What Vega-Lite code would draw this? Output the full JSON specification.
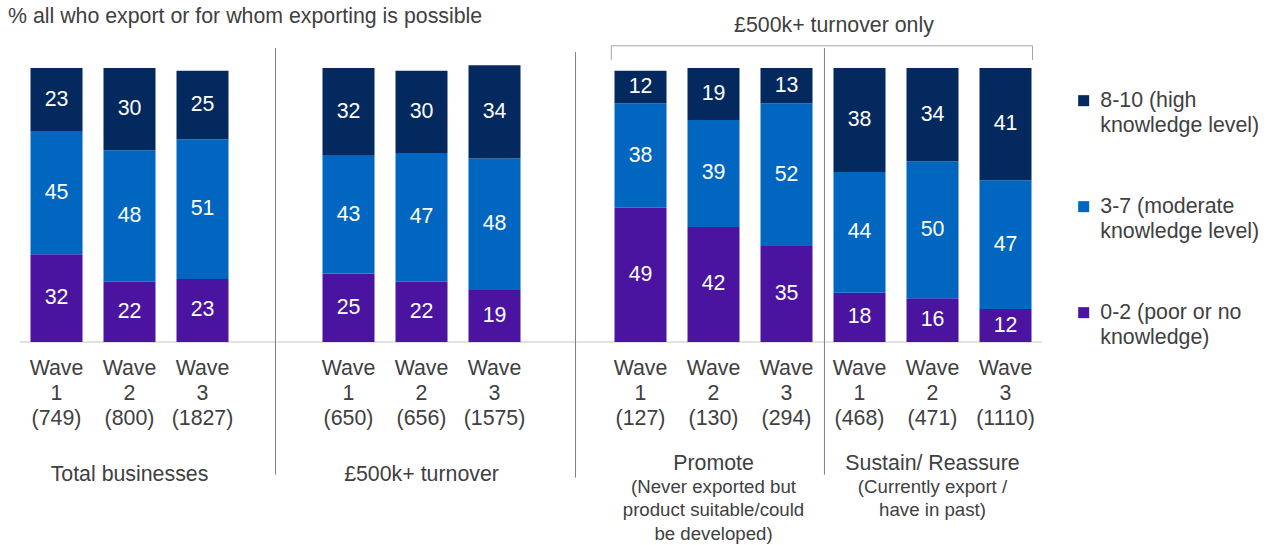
{
  "$schema": "https://vega.github.io/schema/vega-lite/v6.json",
  "width": 1022,
  "height": 274,
  "autosize": {"type": "none"},
  "padding": {"left": 20, "top": 68, "right": 226, "bottom": 203},
  "background": "white",
  "config": {
    "view": {"stroke": null},
    "font": "Liberation Sans",
    "text": {"font": "Liberation Sans"},
    "scale": {"continuousPadding": 0},
    "style": {"guide-label": {"lineHeight": 25}}
  },
  "datasets": {
    "bars": [
      {"slot": 0, "group": "Total businesses", "wave": 1, "n": 749, "level": "0-2 (poor or no knowledge)", "ord": 1, "value": 32},
      {"slot": 0, "group": "Total businesses", "wave": 1, "n": 749, "level": "3-7 (moderate knowledge level)", "ord": 2, "value": 45},
      {"slot": 0, "group": "Total businesses", "wave": 1, "n": 749, "level": "8-10 (high knowledge level)", "ord": 3, "value": 23},
      {"slot": 1, "group": "Total businesses", "wave": 2, "n": 800, "level": "0-2 (poor or no knowledge)", "ord": 1, "value": 22},
      {"slot": 1, "group": "Total businesses", "wave": 2, "n": 800, "level": "3-7 (moderate knowledge level)", "ord": 2, "value": 48},
      {"slot": 1, "group": "Total businesses", "wave": 2, "n": 800, "level": "8-10 (high knowledge level)", "ord": 3, "value": 30},
      {"slot": 2, "group": "Total businesses", "wave": 3, "n": 1827, "level": "0-2 (poor or no knowledge)", "ord": 1, "value": 23},
      {"slot": 2, "group": "Total businesses", "wave": 3, "n": 1827, "level": "3-7 (moderate knowledge level)", "ord": 2, "value": 51},
      {"slot": 2, "group": "Total businesses", "wave": 3, "n": 1827, "level": "8-10 (high knowledge level)", "ord": 3, "value": 25},
      {"slot": 4, "group": "£500k+ turnover", "wave": 1, "n": 650, "level": "0-2 (poor or no knowledge)", "ord": 1, "value": 25},
      {"slot": 4, "group": "£500k+ turnover", "wave": 1, "n": 650, "level": "3-7 (moderate knowledge level)", "ord": 2, "value": 43},
      {"slot": 4, "group": "£500k+ turnover", "wave": 1, "n": 650, "level": "8-10 (high knowledge level)", "ord": 3, "value": 32},
      {"slot": 5, "group": "£500k+ turnover", "wave": 2, "n": 656, "level": "0-2 (poor or no knowledge)", "ord": 1, "value": 22},
      {"slot": 5, "group": "£500k+ turnover", "wave": 2, "n": 656, "level": "3-7 (moderate knowledge level)", "ord": 2, "value": 47},
      {"slot": 5, "group": "£500k+ turnover", "wave": 2, "n": 656, "level": "8-10 (high knowledge level)", "ord": 3, "value": 30},
      {"slot": 6, "group": "£500k+ turnover", "wave": 3, "n": 1575, "level": "0-2 (poor or no knowledge)", "ord": 1, "value": 19},
      {"slot": 6, "group": "£500k+ turnover", "wave": 3, "n": 1575, "level": "3-7 (moderate knowledge level)", "ord": 2, "value": 48},
      {"slot": 6, "group": "£500k+ turnover", "wave": 3, "n": 1575, "level": "8-10 (high knowledge level)", "ord": 3, "value": 34},
      {"slot": 8, "group": "Promote", "wave": 1, "n": 127, "level": "0-2 (poor or no knowledge)", "ord": 1, "value": 49},
      {"slot": 8, "group": "Promote", "wave": 1, "n": 127, "level": "3-7 (moderate knowledge level)", "ord": 2, "value": 38},
      {"slot": 8, "group": "Promote", "wave": 1, "n": 127, "level": "8-10 (high knowledge level)", "ord": 3, "value": 12},
      {"slot": 9, "group": "Promote", "wave": 2, "n": 130, "level": "0-2 (poor or no knowledge)", "ord": 1, "value": 42},
      {"slot": 9, "group": "Promote", "wave": 2, "n": 130, "level": "3-7 (moderate knowledge level)", "ord": 2, "value": 39},
      {"slot": 9, "group": "Promote", "wave": 2, "n": 130, "level": "8-10 (high knowledge level)", "ord": 3, "value": 19},
      {"slot": 10, "group": "Promote", "wave": 3, "n": 294, "level": "0-2 (poor or no knowledge)", "ord": 1, "value": 35},
      {"slot": 10, "group": "Promote", "wave": 3, "n": 294, "level": "3-7 (moderate knowledge level)", "ord": 2, "value": 52},
      {"slot": 10, "group": "Promote", "wave": 3, "n": 294, "level": "8-10 (high knowledge level)", "ord": 3, "value": 13},
      {"slot": 11, "group": "Sustain/ Reassure", "wave": 1, "n": 468, "level": "0-2 (poor or no knowledge)", "ord": 1, "value": 18},
      {"slot": 11, "group": "Sustain/ Reassure", "wave": 1, "n": 468, "level": "3-7 (moderate knowledge level)", "ord": 2, "value": 44},
      {"slot": 11, "group": "Sustain/ Reassure", "wave": 1, "n": 468, "level": "8-10 (high knowledge level)", "ord": 3, "value": 38},
      {"slot": 12, "group": "Sustain/ Reassure", "wave": 2, "n": 471, "level": "0-2 (poor or no knowledge)", "ord": 1, "value": 16},
      {"slot": 12, "group": "Sustain/ Reassure", "wave": 2, "n": 471, "level": "3-7 (moderate knowledge level)", "ord": 2, "value": 50},
      {"slot": 12, "group": "Sustain/ Reassure", "wave": 2, "n": 471, "level": "8-10 (high knowledge level)", "ord": 3, "value": 34},
      {"slot": 13, "group": "Sustain/ Reassure", "wave": 3, "n": 1110, "level": "0-2 (poor or no knowledge)", "ord": 1, "value": 12},
      {"slot": 13, "group": "Sustain/ Reassure", "wave": 3, "n": 1110, "level": "3-7 (moderate knowledge level)", "ord": 2, "value": 47},
      {"slot": 13, "group": "Sustain/ Reassure", "wave": 3, "n": 1110, "level": "8-10 (high knowledge level)", "ord": 3, "value": 41}
    ],
    "notes": [
      {"group": "Promote", "note": "(Never exported but\nproduct suitable/could\nbe developed)"},
      {"group": "Sustain/ Reassure", "note": "(Currently export /\nhave in past)"}
    ]
  },
  "layer": [
    {
      "data": {"values": [{}]},
      "mark": {"type": "rule", "color": "#d9d9d9", "strokeWidth": 1.5},
      "encoding": {
        "y": {"datum": 0, "type": "quantitative", "scale": {"domain": [0, 100], "nice": false, "zero": false, "padding": 0}, "axis": null}
      }
    },
    {
      "data": {"name": "bars"},
      "transform": [
        {"stack": "value", "groupby": ["slot"], "sort": [{"field": "ord", "order": "ascending"}], "as": ["v0", "v1"]}
      ],
      "mark": {"type": "bar", "size": 52},
      "encoding": {
        "x": {"field": "slot", "type": "quantitative", "scale": {"domain": [-0.5, 13.5], "nice": false, "zero": false, "padding": 0}, "axis": null},
        "y": {"field": "v0", "type": "quantitative", "scale": {"domain": [0, 100], "nice": false, "zero": false, "padding": 0}, "axis": null},
        "y2": {"field": "v1"},
        "color": {
          "field": "level",
          "type": "nominal",
          "scale": {
            "domain": ["8-10 (high knowledge level)", "3-7 (moderate knowledge level)", "0-2 (poor or no knowledge)"],
            "range": ["#03295f", "#0066c0", "#4a14a0"]
          },
          "legend": {
            "orient": "none",
            "legendX": 1053,
            "legendY": 22,
            "title": null,
            "padding": 0,
            "symbolType": "square",
            "symbolSize": 121,
            "symbolStrokeWidth": 0,
            "labelFont": "Liberation Sans",
            "labelFontSize": 21.33,
            "labelColor": "#404040",
            "labelLimit": 400,
            "labelOffset": 6,
            "rowPadding": 59,
            "labelExpr": "[slice(datum.label, 0, indexof(datum.label, ' knowledge')), slice(datum.label, indexof(datum.label, ' knowledge') + 1)]"
          }
        }
      }
    },
    {
      "data": {"name": "bars"},
      "transform": [
        {"stack": "value", "groupby": ["slot"], "sort": [{"field": "ord", "order": "ascending"}], "as": ["v0", "v1"]},
        {"calculate": "(datum.v0 + datum.v1) / 2", "as": "mid"}
      ],
      "mark": {"type": "text", "color": "white", "fontSize": 21.33, "baseline": "middle", "align": "center"},
      "encoding": {
        "x": {"field": "slot", "type": "quantitative", "scale": {"domain": [-0.5, 13.5], "nice": false, "zero": false, "padding": 0}, "axis": null},
        "y": {"field": "mid", "type": "quantitative", "scale": {"domain": [0, 100], "nice": false, "zero": false, "padding": 0}, "axis": null},
        "text": {"field": "value", "type": "quantitative"}
      }
    },
    {
      "data": {"name": "bars"},
      "transform": [
        {"filter": "datum.ord == 1"},
        {"calculate": "'Wave\\n' + datum.wave + '\\n(' + datum.n + ')'", "as": "tick"}
      ],
      "mark": {"type": "text", "color": "#404040", "fontSize": 21.33, "lineHeight": 25, "lineBreak": "\n", "baseline": "alphabetic", "align": "center", "dy": 33},
      "encoding": {
        "x": {"field": "slot", "type": "quantitative", "scale": {"domain": [-0.5, 13.5], "nice": false, "zero": false, "padding": 0}, "axis": null},
        "y": {"datum": 0, "type": "quantitative", "scale": {"domain": [0, 100], "nice": false, "zero": false, "padding": 0}, "axis": null},
        "text": {"field": "tick", "type": "nominal"}
      }
    },
    {
      "data": {"name": "bars"},
      "transform": [
        {"aggregate": [{"op": "mean", "field": "slot", "as": "center"}], "groupby": ["group"]},
        {"lookup": "group", "from": {"data": {"name": "notes"}, "key": "group", "fields": ["note"]}},
        {"filter": "!isValid(datum.note)"}
      ],
      "mark": {"type": "text", "color": "#404040", "fontSize": 21.33, "baseline": "alphabetic", "align": "center", "dy": 139},
      "encoding": {
        "x": {"field": "center", "type": "quantitative", "scale": {"domain": [-0.5, 13.5], "nice": false, "zero": false, "padding": 0}, "axis": null},
        "y": {"datum": 0, "type": "quantitative", "scale": {"domain": [0, 100], "nice": false, "zero": false, "padding": 0}, "axis": null},
        "text": {"field": "group", "type": "nominal"}
      }
    },
    {
      "data": {"name": "bars"},
      "transform": [
        {"aggregate": [{"op": "mean", "field": "slot", "as": "center"}], "groupby": ["group"]},
        {"lookup": "group", "from": {"data": {"name": "notes"}, "key": "group", "fields": ["note"]}},
        {"filter": "isValid(datum.note)"}
      ],
      "mark": {"type": "text", "color": "#404040", "fontSize": 21.33, "baseline": "alphabetic", "align": "center", "dy": 128},
      "encoding": {
        "x": {"field": "center", "type": "quantitative", "scale": {"domain": [-0.5, 13.5], "nice": false, "zero": false, "padding": 0}, "axis": null},
        "y": {"datum": 0, "type": "quantitative", "scale": {"domain": [0, 100], "nice": false, "zero": false, "padding": 0}, "axis": null},
        "text": {"field": "group", "type": "nominal"}
      }
    },
    {
      "data": {"name": "bars"},
      "transform": [
        {"aggregate": [{"op": "mean", "field": "slot", "as": "center"}], "groupby": ["group"]},
        {"lookup": "group", "from": {"data": {"name": "notes"}, "key": "group", "fields": ["note"]}},
        {"filter": "isValid(datum.note)"}
      ],
      "mark": {"type": "text", "color": "#404040", "fontSize": 18.67, "lineHeight": 23.3, "lineBreak": "\n", "baseline": "alphabetic", "align": "center", "dy": 151},
      "encoding": {
        "x": {"field": "center", "type": "quantitative", "scale": {"domain": [-0.5, 13.5], "nice": false, "zero": false, "padding": 0}, "axis": null},
        "y": {"datum": 0, "type": "quantitative", "scale": {"domain": [0, 100], "nice": false, "zero": false, "padding": 0}, "axis": null},
        "text": {"field": "note", "type": "nominal"}
      }
    },
    {
      "data": {"values": [{}]},
      "mark": {"type": "rule", "color": "#7f7f7f", "strokeWidth": 1},
      "encoding": {
        "x": {"datum": 3, "type": "quantitative", "scale": {"domain": [-0.5, 13.5], "nice": false, "zero": false, "padding": 0}, "axis": null},
        "y": {"datum": 107.3, "type": "quantitative", "scale": {"domain": [0, 100], "nice": false, "zero": false, "padding": 0}, "axis": null},
        "y2": {"datum": -48.4}
      }
    },
    {
      "data": {"values": [{}]},
      "mark": {"type": "rule", "color": "#7f7f7f", "strokeWidth": 1},
      "encoding": {
        "x": {"datum": 7.11, "type": "quantitative", "scale": {"domain": [-0.5, 13.5], "nice": false, "zero": false, "padding": 0}, "axis": null},
        "y": {"datum": 105.8, "type": "quantitative", "scale": {"domain": [0, 100], "nice": false, "zero": false, "padding": 0}, "axis": null},
        "y2": {"datum": -49.5}
      }
    },
    {
      "data": {"values": [{}]},
      "mark": {"type": "rule", "color": "#7f7f7f", "strokeWidth": 1},
      "encoding": {
        "x": {"datum": 10.52, "type": "quantitative", "scale": {"domain": [-0.5, 13.5], "nice": false, "zero": false, "padding": 0}, "axis": null},
        "y": {"datum": 107.3, "type": "quantitative", "scale": {"domain": [0, 100], "nice": false, "zero": false, "padding": 0}, "axis": null},
        "y2": {"datum": -48.4}
      }
    },
    {
      "data": {"values": [{}]},
      "mark": {"type": "rule", "color": "#a6a6a6", "strokeWidth": 1},
      "encoding": {
        "x": {"datum": 7.6, "type": "quantitative", "scale": {"domain": [-0.5, 13.5], "nice": false, "zero": false, "padding": 0}, "axis": null},
        "x2": {"datum": 13.37},
        "y": {"datum": 108.1, "type": "quantitative", "scale": {"domain": [0, 100], "nice": false, "zero": false, "padding": 0}, "axis": null}
      }
    },
    {
      "data": {"values": [{}]},
      "mark": {"type": "rule", "color": "#a6a6a6", "strokeWidth": 1},
      "encoding": {
        "x": {"datum": 7.6, "type": "quantitative", "scale": {"domain": [-0.5, 13.5], "nice": false, "zero": false, "padding": 0}, "axis": null},
        "y": {"datum": 108.1, "type": "quantitative", "scale": {"domain": [0, 100], "nice": false, "zero": false, "padding": 0}, "axis": null},
        "y2": {"datum": 102.9}
      }
    },
    {
      "data": {"values": [{}]},
      "mark": {"type": "rule", "color": "#a6a6a6", "strokeWidth": 1},
      "encoding": {
        "x": {"datum": 13.37, "type": "quantitative", "scale": {"domain": [-0.5, 13.5], "nice": false, "zero": false, "padding": 0}, "axis": null},
        "y": {"datum": 108.1, "type": "quantitative", "scale": {"domain": [0, 100], "nice": false, "zero": false, "padding": 0}, "axis": null},
        "y2": {"datum": 102.9}
      }
    },
    {
      "data": {"values": [{"text": "£500k+ turnover only"}]},
      "mark": {"type": "text", "color": "#404040", "fontSize": 21.33, "baseline": "alphabetic", "align": "center"},
      "encoding": {
        "x": {"datum": 10.65, "type": "quantitative", "scale": {"domain": [-0.5, 13.5], "nice": false, "zero": false, "padding": 0}, "axis": null},
        "y": {"datum": 113.3, "type": "quantitative", "scale": {"domain": [0, 100], "nice": false, "zero": false, "padding": 0}, "axis": null},
        "text": {"field": "text", "type": "nominal"}
      }
    },
    {
      "data": {"values": [{"text": "% all who export or for whom exporting is possible"}]},
      "mark": {"type": "text", "color": "#404040", "fontSize": 21.33, "baseline": "alphabetic", "align": "left"},
      "encoding": {
        "x": {"datum": -0.664, "type": "quantitative", "scale": {"domain": [-0.5, 13.5], "nice": false, "zero": false, "padding": 0}, "axis": null},
        "y": {"datum": 116.4, "type": "quantitative", "scale": {"domain": [0, 100], "nice": false, "zero": false, "padding": 0}, "axis": null},
        "text": {"field": "text", "type": "nominal"}
      }
    }
  ]
}
